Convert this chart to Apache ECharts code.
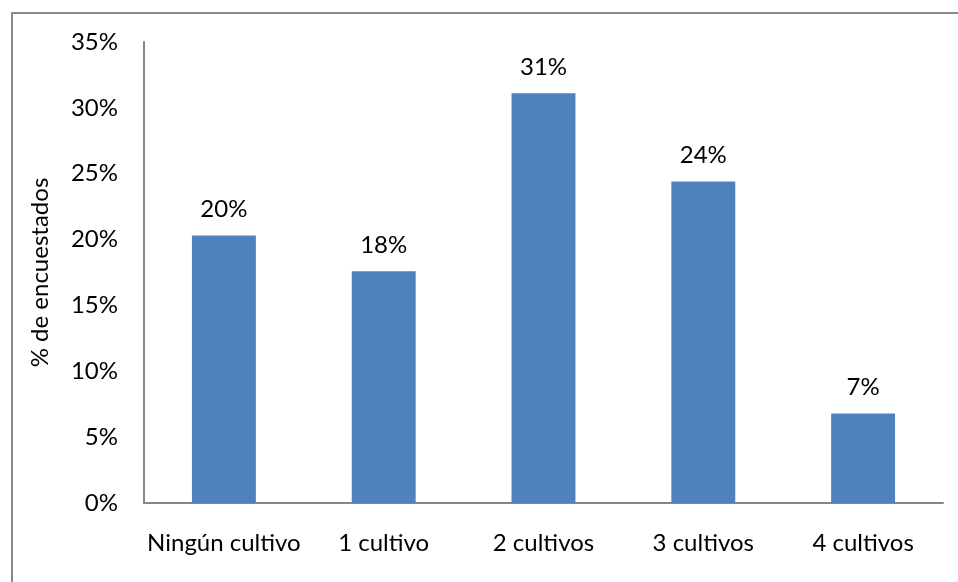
<!DOCTYPE html>
<html>
<head>
<meta charset="utf-8">
<style>
  html, body { margin: 0; padding: 0; background: #ffffff; }
  #chart { width: 958px; height: 582px; }
</style>
<script src="https://cdn.jsdelivr.net/npm/echarts@6/dist/echarts.min.js"></script>
</head>
<body>
<div id="chart"></div>
<script>
// Number of crops grown by the surveyed households
const categories = ['Ningún cultivo', '1 cultivo', '2 cultivos', '3 cultivos', '4 cultivos'];
const shares = [20.3, 17.6, 31.1, 24.4, 6.8];
const yTicks = [0, 5, 10, 15, 20, 25, 30, 35];
const yTitle = '% de encuestados';

const FONT = 'Lato';
const FS = 24;
const chart = echarts.init(document.getElementById('chart'), null, { renderer: 'canvas' });

chart.setOption({
  animation: false,
  backgroundColor: '#ffffff',
  graphic: [{
    type: 'rect',
    shape: { x: 12, y: 13, width: 1000, height: 1000 },
    style: { fill: 'none', stroke: '#8a8a8a', lineWidth: 2 },
    silent: true,
    z: 0
  }],
  grid: { left: 144, right: 15, top: 42, bottom: 79, containLabel: false },
  xAxis: {
    type: 'category',
    data: categories,
    axisLine: { show: true, lineStyle: { color: '#868686', width: 2 } },
    axisTick: { show: false },
    axisLabel: { color: '#000', fontFamily: FONT, fontSize: FS, margin: 28, interval: 0 }
  },
  yAxis: {
    type: 'value',
    min: yTicks[0],
    max: yTicks[yTicks.length - 1],
    interval: 5,
    name: yTitle,
    nameLocation: 'middle',
    nameGap: 92,
    nameRotate: 90,
    nameTextStyle: { color: '#000', fontFamily: FONT, fontSize: FS },
    axisLine: { show: true, lineStyle: { color: '#868686', width: 2 } },
    axisTick: { show: false },
    splitLine: { show: false },
    axisLabel: { color: '#000', fontFamily: FONT, fontSize: FS, margin: 26, formatter: '{value}%' }
  },
  series: [{
    type: 'bar',
    data: shares,
    barWidth: '40%',
    itemStyle: { color: '#4f81bd' },
    label: {
      show: true,
      position: 'top',
      distance: 14,
      color: '#000',
      fontFamily: FONT,
      fontSize: FS,
      formatter: p => Math.round(p.value) + '%'
    }
  }]
});
</script>
</body>
</html>
